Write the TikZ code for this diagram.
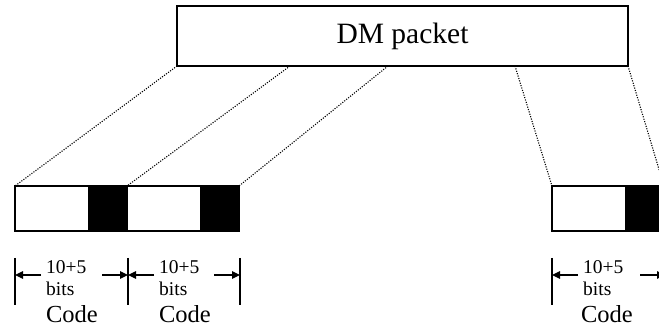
\documentclass[tikz,border=0pt]{standalone}
\usepackage{fontspec}
\setmainfont{Liberation Serif}
\usetikzlibrary{arrows.meta, positioning}

\tikzset{
  pkt/.style={draw, line width=1.5pt, minimum width=451pt, minimum height=60pt,
    inner sep=0pt, outer sep=0pt, font=\fontsize{29.5}{32}\selectfont},
  field/.style={draw, line width=1.5pt, minimum height=45pt, inner sep=0pt,
    outer sep=0pt, anchor=north west},
  datafield/.style={field, fill=white, minimum width=74pt},
  tailfield/.style={field, fill=black, minimum width=38pt},
  spread/.style={line width=1.1pt, dash pattern=on 1.1pt off 1.4pt},
  dimline/.style={line width=1.2pt},
  dimarrow/.style={line width=1.2pt, -{Triangle[length=8pt,width=7.5pt]}},
  small/.style={font=\fontsize{19.5}{21}\selectfont, inner sep=0pt, anchor=base west},
  label/.style={font=\fontsize{24.5}{26}\selectfont, inner sep=0pt, anchor=base}
}

\begin{document}
\begin{tikzpicture}[x=1pt, y=-1pt]
  \clip (0,0) rectangle (659,331);

  % packet on top
  \node[pkt] (dm) at (402.5,36) {DM packet};
  \coordinate (s2) at (290,66);
  \coordinate (s3) at (388,66);
  \coordinate (s4) at (515,66);

  % code words below
  \node[datafield] (w1) at (15,186) {};
  \node[tailfield, right=0pt of w1] (k1) {};
  \node[datafield, right=0pt of k1] (w2) {};
  \node[tailfield, right=0pt of w2] (k2) {};
  \node[datafield] (w3) at (552,186) {};
  \node[tailfield, right=0pt of w3] (k3) {};

  \draw[spread] (dm.south west) -- (w1.north west);
  \draw[spread] (s2) -- (k1.north east);
  \draw[spread] (s3) -- (k2.north east);
  \draw[spread] (s4) -- (w3.north west);
  \draw[spread] (dm.south east) -- (k3.north east);

  % widths
  \coordinate (a1) at (15,258);   \coordinate (b1) at (15,305);   \coordinate (m1) at (15,275);
  \coordinate (a2) at (128,258);  \coordinate (b2) at (128,305);  \coordinate (m2) at (128,275);
  \coordinate (a3) at (240,258);  \coordinate (b3) at (240,305);  \coordinate (m3) at (240,275);
  \coordinate (a4) at (552,258);  \coordinate (b4) at (552,305);  \coordinate (m4) at (552,275);
  \coordinate (a5) at (665,258);  \coordinate (b5) at (665,305);  \coordinate (m5) at (665,275);
  \draw[dimline] (a1) -- (b1);
  \draw[dimline] (a2) -- (b2);
  \draw[dimline] (a3) -- (b3);
  \draw[dimline] (a4) -- (b4);
  \draw[dimline] (a5) -- (b5);

  \node[small] (n1) at (46,273) {10+5};
  \node[small] (n2) at (159,273) {10+5};
  \node[small] (n3) at (583,273) {10+5};
  \node[small] (u1) at (46,295) {bits};
  \node[small] (u2) at (159,295) {bits};
  \node[small] (u3) at (583,295) {bits};
  \node[label] (c1) at (72,323) {Code};
  \node[label] (c2) at (185,323) {Code};
  \node[label] (c3) at (607,323) {Code};

  \coordinate (p1) at (41,275);  \coordinate (q1) at (102,275);
  \coordinate (p2) at (154,275); \coordinate (q2) at (214,275);
  \coordinate (p3) at (578,275); \coordinate (q3) at (640,275);
  \draw[dimarrow] (p1) -- (m1);
  \draw[dimarrow] (q1) -- (m2);
  \draw[dimarrow] (p2) -- (m2);
  \draw[dimarrow] (q2) -- (m3);
  \draw[dimarrow] (p3) -- (m4);
  \draw[dimarrow] (q3) -- (m5);
\end{tikzpicture}
\end{document}
